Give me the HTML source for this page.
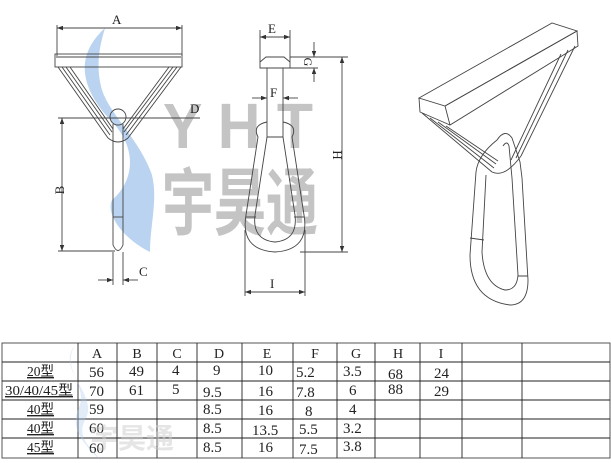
<!DOCTYPE html>
<html><head><meta charset="utf-8"><style>
html,body{margin:0;padding:0;background:#fff;width:611px;height:463px;overflow:hidden}
svg{position:absolute;left:0;top:0}
text{font-family:"Liberation Serif",serif;fill:#222}
.t{font-family:"Liberation Serif","Noto Serif CJK SC",serif;font-size:14px;fill:#111}
.n{font-family:"Liberation Sans Narrow","Liberation Sans",sans-serif;font-size:15px;fill:#111}
</style></head><body>
<svg width="611" height="463" viewBox="0 0 611 463" xmlns="http://www.w3.org/2000/svg">
<defs>
<marker id="ar" viewBox="0 0 8 6" refX="8" refY="3" markerWidth="7" markerHeight="5" orient="auto-start-reverse"><path d="M0,0L8,3L0,6z" fill="#333"/></marker>
</defs>
<!-- watermark -->
<path d="M105,28 C70,60 85,95 115,125 C140,155 130,185 112,200 C105,215 125,240 150,252 C150,225 158,200 152,175 C140,140 110,115 102,90 C95,65 100,45 105,28z" fill="#a9c8ec" opacity="0.8"/>
<text x="163" y="148" style="font-family:'Liberation Sans',sans-serif;font-size:64px;font-weight:bold;fill:#c4c4c4" textLength="150" lengthAdjust="spacingAndGlyphs">Y H T</text>
<text x="162" y="228" transform="translate(0,-95) scale(1,1.42)" style="font-family:'Noto Sans CJK SC',sans-serif;font-size:52px;font-weight:bold;fill:#c4c4c4" textLength="156" lengthAdjust="spacingAndGlyphs">宇昊通</text>
<g stroke="#444" stroke-width="0.9" fill="none">
<!-- left view -->
<line x1="57" y1="25" x2="57" y2="56"/><line x1="182" y1="25" x2="182" y2="56"/>
<line x1="57" y1="28" x2="182" y2="28" marker-start="url(#ar)" marker-end="url(#ar)"/>
<rect x="55" y="54" width="127" height="13"/>
<line x1="56" y1="57" x2="181" y2="57"/>
<path d="M58,67 L108,138 M62,67 L110,135 M66,67 L112,132 M70,67 L113,129"/>
<path d="M181,67 L128,138 M177,67 L126,135 M173,67 L124,132 M169,67 L123,129"/>
<path d="M108,138 Q118,146 128,138"/>
<circle cx="118" cy="117" r="8"/>
<path d="M113,124 L113,245 Q118,256 123,245 L123,124"/>
<line x1="113" y1="217" x2="123" y2="217"/>
<line x1="58" y1="118" x2="200" y2="118"/>
<line x1="58" y1="251" x2="115" y2="251"/>
<line x1="62" y1="118" x2="62" y2="251" marker-start="url(#ar)" marker-end="url(#ar)"/>
<line x1="113" y1="252" x2="113" y2="285"/><line x1="123" y1="252" x2="123" y2="285"/>
<line x1="98" y1="280" x2="113" y2="280" marker-end="url(#ar)"/><line x1="138" y1="280" x2="123" y2="280" marker-end="url(#ar)"/>
<!-- side view -->
<line x1="260" y1="30" x2="260" y2="62"/><line x1="290" y1="30" x2="290" y2="62"/>
<line x1="260" y1="37" x2="290" y2="37" marker-start="url(#ar)" marker-end="url(#ar)"/>
<path d="M260,62 L266,57 L284,57 L290,62 L290,68 L260,68z"/>
<line x1="290" y1="57" x2="348" y2="57"/><line x1="290" y1="68" x2="318" y2="68"/>
<line x1="314" y1="42" x2="314" y2="57" marker-end="url(#ar)"/><line x1="314" y1="82" x2="314" y2="68" marker-end="url(#ar)"/>
<path d="M267,68 L267,137 L283,137 L283,68"/>
<line x1="252" y1="98" x2="267" y2="98" marker-end="url(#ar)"/><line x1="298" y1="98" x2="283" y2="98" marker-end="url(#ar)"/>
<path d="M267,122 Q252,125 258,137 L246,215 Q240,250 275,252 Q310,250 304,215 L292,137 Q298,125 283,122"/>
<path d="M267,137 L255,215 Q252,240 275,242 Q298,240 295,215 L283,137"/>
<line x1="246" y1="217" x2="256" y2="217"/><line x1="294" y1="217" x2="304" y2="217"/>
<line x1="300" y1="252" x2="348" y2="252"/>
<line x1="342" y1="57" x2="342" y2="252" marker-start="url(#ar)" marker-end="url(#ar)"/>
<line x1="245" y1="230" x2="245" y2="296"/><line x1="305" y1="230" x2="305" y2="296"/>
<line x1="245" y1="292" x2="305" y2="292" marker-start="url(#ar)" marker-end="url(#ar)"/>
<!-- 3D view -->
<path d="M419,98 L552,23 L577,31 L445,106z"/>
<path d="M445,106 L577,31 L578,46 L450,125z"/>
<path d="M419,98 L420,112 L450,125"/>
<path d="M422,113 L492,172 M430,118 L494,168 M438,122 L496,164 M446,126 L498,161"/>
<path d="M575,46 L521,156 M568,50 L516,158 M561,54 L511,160"/>
<path d="M492,172 Q505,178 521,156"/>
<path d="M497,140 Q505,128 512,138 L520,162 L522,178 L528,280 Q528,305 510,305 Q470,300 470,255 L476,172 Q478,155 497,140z"/>
<path d="M503,146 Q507,140 509,146 L512,178 L518,275 Q517,290 505,290 Q484,285 482,252 L486,175"/>
<path d="M470,238 L484,240 M518,276 L528,276"/>
<!-- table -->
<rect x="2" y="343" width="608" height="115"/>
<g stroke="#222">
<line x1="2" y1="362" x2="610" y2="362"/><line x1="2" y1="381" x2="610" y2="381"/><line x1="2" y1="400" x2="610" y2="400"/><line x1="2" y1="419" x2="610" y2="419"/><line x1="2" y1="438" x2="610" y2="438"/>
<line x1="78" y1="343" x2="78" y2="458"/><line x1="117" y1="343" x2="117" y2="458"/><line x1="157" y1="343" x2="157" y2="458"/><line x1="197" y1="343" x2="197" y2="458"/><line x1="242" y1="343" x2="242" y2="458"/><line x1="293" y1="343" x2="293" y2="458"/><line x1="337" y1="343" x2="337" y2="458"/><line x1="375" y1="343" x2="375" y2="458"/><line x1="420" y1="343" x2="420" y2="458"/><line x1="462" y1="343" x2="462" y2="458"/><line x1="522" y1="343" x2="522" y2="458"/>
</g>
</g>
<text x="112" y="24" font-size="13">A</text>
<text x="190" y="113" font-size="13">D</text>
<text x="64" y="190" font-size="13" transform="rotate(-90 64 190)" text-anchor="middle">B</text>
<text x="139" y="276" font-size="13">C</text>
<text x="268" y="33" font-size="13">E</text>
<text x="270" y="97" font-size="13">F</text>
<text x="304" y="62" font-size="12" transform="rotate(90 304 62)" text-anchor="middle">G</text>
<text x="333" y="155" font-size="13" transform="rotate(90 333 155)" text-anchor="middle">H</text>
<text x="270" y="288" font-size="13">I</text>
<!-- table text -->
<g class="t" text-anchor="middle">
<text x="97" y="358">A</text><text x="137" y="358">B</text><text x="177" y="358">C</text><text x="219" y="358">D</text><text x="267" y="358">E</text><text x="315" y="358">F</text><text x="356" y="358">G</text><text x="398" y="358">H</text><text x="441" y="358">I</text>
</g>
<g class="t">
<text x="27" y="376" text-decoration="underline" textLength="27" lengthAdjust="spacingAndGlyphs">20型</text>
<text x="5" y="395" text-decoration="underline" textLength="68" lengthAdjust="spacingAndGlyphs">30/40/45型</text>
<text x="27" y="414" text-decoration="underline" textLength="27" lengthAdjust="spacingAndGlyphs">40型</text>
<text x="27" y="433" text-decoration="underline" textLength="27" lengthAdjust="spacingAndGlyphs">40型</text>
<text x="27" y="452" text-decoration="underline" textLength="27" lengthAdjust="spacingAndGlyphs">45型</text>
</g>
<g class="n">
<text x="89" y="377">56</text><text x="129" y="376">49</text><text x="172" y="375">4</text><text x="213" y="375">9</text><text x="258" y="375">10</text><text x="296" y="377">5.2</text><text x="343" y="376">3.5</text><text x="388" y="379">68</text><text x="434" y="378">24</text>
<text x="89" y="396">70</text><text x="129" y="395">61</text><text x="172" y="394">5</text><text x="203" y="397">9.5</text><text x="258" y="396">16</text><text x="296" y="397">7.8</text><text x="349" y="395">6</text><text x="388" y="394">88</text><text x="434" y="396">29</text>
<text x="89" y="414">59</text><text x="203" y="414">8.5</text><text x="258" y="415">16</text><text x="305" y="416">8</text><text x="349" y="414">4</text>
<text x="89" y="433">60</text><text x="203" y="433">8.5</text><text x="252" y="435">13.5</text><text x="299" y="434">5.5</text><text x="343" y="433">3.2</text>
<text x="89" y="453">60</text><text x="203" y="452">8.5</text><text x="258" y="452">16</text><text x="299" y="454">7.5</text><text x="343" y="451">3.8</text>
</g>
<path d="M75,345 C55,370 100,395 85,420 C75,440 95,450 100,460 C85,445 70,430 78,410 C90,385 60,370 75,345z" fill="#a9c8ec" opacity="0.35"/>
<text x="90" y="448" style="font-family:'Noto Sans CJK SC',sans-serif;font-size:28px;font-weight:bold;fill:#ccc" opacity="0.5">宇昊通</text>
</svg>
</body></html>
